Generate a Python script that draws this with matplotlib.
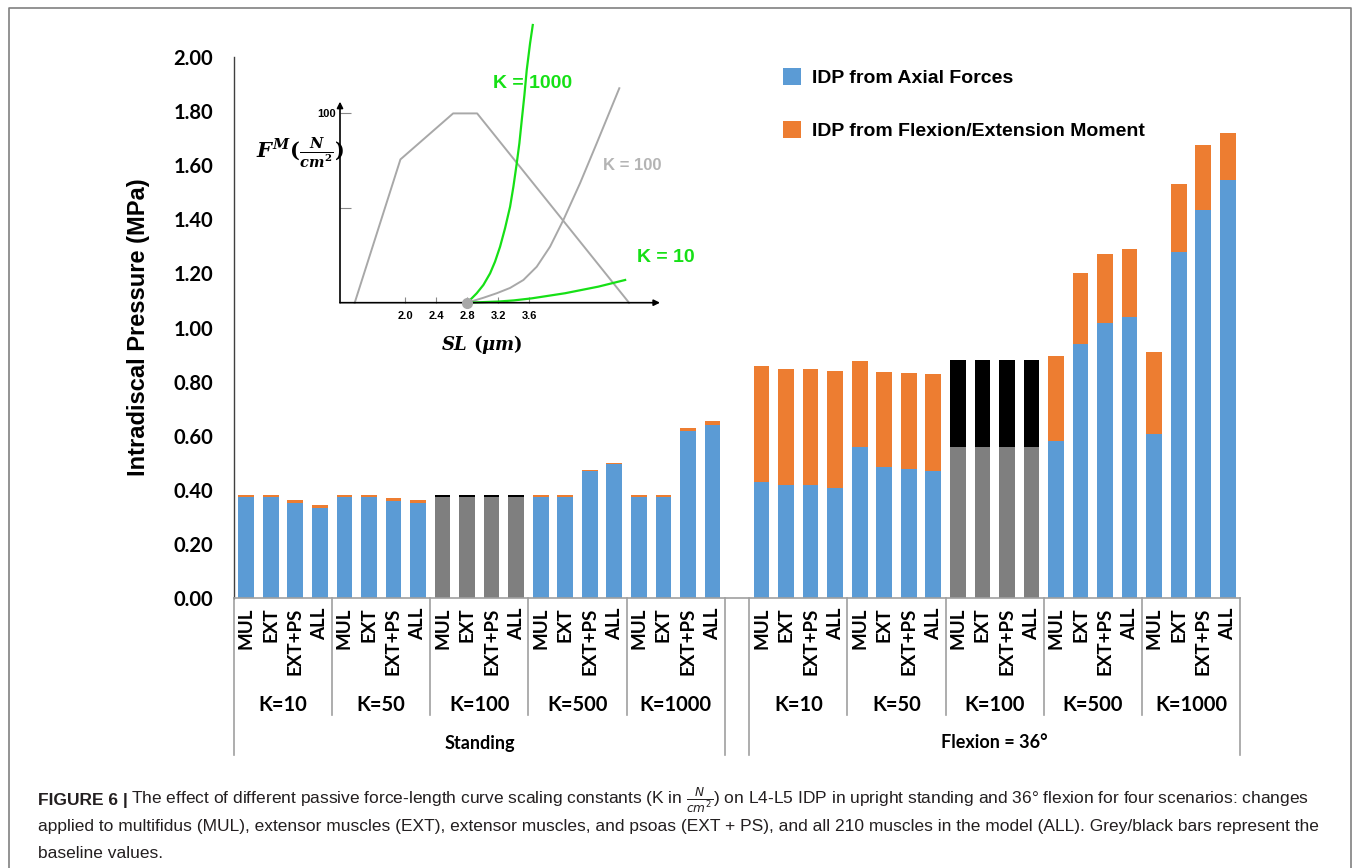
import matplotlib
matplotlib.use("Agg")
import matplotlib.pyplot as plt
from matplotlib.lines import Line2D
import numpy as np

# ---------------- data ----------------
scenarios = ["MUL", "EXT", "EXT+PS", "ALL"]
k_labels = ["K=10", "K=50", "K=100", "K=500", "K=1000"]
postures = ["Standing", "Flexion = 36°"]
baseline_k = "K=100"

standing_axial = [0.372, 0.372, 0.350, 0.334,
                  0.372, 0.372, 0.359, 0.350,
                  0.372, 0.372, 0.372, 0.372,
                  0.372, 0.372, 0.471, 0.497,
                  0.372, 0.372, 0.616, 0.641]
standing_moment = [0.009, 0.009, 0.011, 0.011,
                   0.009, 0.009, 0.012, 0.011,
                   0.009, 0.009, 0.009, 0.009,
                   0.009, 0.009, 0.003, 0.002,
                   0.009, 0.009, 0.014, 0.012]
flexion_axial = [0.430, 0.417, 0.417, 0.408,
                 0.557, 0.484, 0.476, 0.470,
                 0.559, 0.559, 0.559, 0.559,
                 0.580, 0.939, 1.017, 1.038,
                 0.605, 1.280, 1.434, 1.544]
flexion_moment = [0.429, 0.428, 0.428, 0.431,
                  0.319, 0.353, 0.355, 0.358,
                  0.321, 0.321, 0.321, 0.321,
                  0.313, 0.261, 0.254, 0.253,
                  0.306, 0.249, 0.239, 0.174]

legend_labels = ["IDP from Axial Forces", "IDP from Flexion/Extension Moment"]
y_ticks = [0.0, 0.2, 0.4, 0.6, 0.8, 1.0, 1.2, 1.4, 1.6, 1.8, 2.0]

# inset (passive / active force-length schematic)
active_sl = [1.35, 1.94, 2.62, 2.93, 4.89]
active_f = [0, 75.7, 100, 100, 0]
k1000_sl = [2.8, 2.860, 2.925, 3.011, 3.097, 3.161, 3.226, 3.290, 3.355, 3.398,
            3.441, 3.475, 3.506, 3.540, 3.570, 3.613, 3.648]
k1000_f = [0, 2.3, 5.0, 9.4, 15.5, 21.7, 29.6, 39.3, 50.7, 61.3,
           73.6, 84.2, 96.5, 109.7, 122.9, 137.0, 146.7]
k100_sl = [2.8, 3.011, 3.183, 3.355, 3.527, 3.699, 3.871, 4.043, 4.258, 4.473, 4.765]
k100_f = [0, 2.6, 5.0, 7.8, 12.0, 19.0, 29.6, 43.7, 63.1, 84.2, 113.3]
k10_sl = [2.8, 3.2, 3.4, 3.635, 4.065, 4.496, 4.84]
k10_f = [0, 0.6, 1.2, 2.3, 5.0, 8.5, 12.0]
inset_xticks = [2.0, 2.4, 2.8, 3.2, 3.6]

# ---------------- style ----------------
BLUE = "#5B9BD5"
ORANGE = "#ED7D31"
GREY = "#7F7F7F"
BLACK = "#000000"
GREEN = "#16E016"
LGREY = "#A8A8A8"
LINE = "#A0A0A0"
CAT_FONT = "Lato"
ARIAL = "Liberation Sans"

plt.rcParams["mathtext.fontset"] = "custom"
plt.rcParams["mathtext.it"] = "DejaVu Serif:italic:bold"
plt.rcParams["mathtext.rm"] = "DejaVu Serif:bold"
plt.rcParams["mathtext.bf"] = "DejaVu Serif:bold"

W, H = 1357, 868
fig = plt.figure(figsize=(W / 100, H / 100), dpi=100)

def fx(px):
    return px / W

def fy(py):
    return 1 - py / H

ax_left, ax_right, ax_top, ax_bottom = 234, 1240, 57, 598
ax = fig.add_axes([fx(ax_left), fy(ax_bottom), fx(ax_right - ax_left), (ax_bottom - ax_top) / H])

n_per = len(scenarios) * len(k_labels)
x_stand = np.arange(n_per)
x_flex = np.arange(n_per) + n_per + 1
x_all = np.concatenate([x_stand, x_flex])
axial = np.array(standing_axial + flexion_axial)
moment = np.array(standing_moment + flexion_moment)

groups = [k for _ in postures for k in k_labels for _ in scenarios]
is_base = np.array([g == baseline_k for g in groups])
c_axial = [GREY if b else BLUE for b in is_base]
c_moment = [BLACK if b else ORANGE for b in is_base]

bw = 0.64
b1 = ax.bar(x_all, axial, width=bw, color=c_axial, label=legend_labels[0], zorder=2)
b2 = ax.bar(x_all, moment, bottom=axial, width=bw, color=c_moment, label=legend_labels[1], zorder=2)

ax.set_xlim(-0.5, 2 * n_per + 0.5)
ax.set_ylim(0, 2.0)
ax.set_yticks(y_ticks)
ax.set_yticklabels([f"{v:.2f}" for v in y_ticks], fontfamily=CAT_FONT, fontweight="bold", fontsize=14.5)
ax.tick_params(axis="y", length=0, pad=15)
ax.set_xticks(x_all)
ax.set_xticklabels(scenarios * (2 * len(k_labels)), rotation=90, fontfamily=CAT_FONT,
                   fontweight="bold", fontsize=13.5)
ax.tick_params(axis="x", length=0, pad=7)
for s in ["top", "right"]:
    ax.spines[s].set_visible(False)
ax.spines["left"].set_color("#404040")
ax.spines["left"].set_linewidth(1.0)
ax.spines["bottom"].set_color(LINE)
ax.spines["bottom"].set_linewidth(1.2)
ax.set_ylabel("Intradiscal Pressure (MPa)", fontfamily=ARIAL, fontweight="bold", fontsize=17)
ax.yaxis.set_label_coords(-(234 - 150) / (ax_right - ax_left), 0.5)

# multi-level category lines
axh = ax_bottom - ax_top
short_y = -(715 - ax_bottom) / axh
long_y = -(755 - ax_bottom) / axh
trans = ax.get_xaxis_transform()
for p in range(2):
    start = -0.5 + p * (n_per + 1)
    for g in range(len(k_labels) + 1):
        xb = start + g * len(scenarios)
        yb = long_y if g in (0, len(k_labels)) else short_y
        ax.plot([xb, xb], [0, yb], color=LINE, lw=1.2, transform=trans, clip_on=False)
        if g < len(k_labels):
            ax.text(xb + len(scenarios) / 2, -(705 - ax_bottom) / axh, k_labels[g], transform=trans,
                    ha="center", va="center", fontfamily=CAT_FONT, fontweight="bold", fontsize=14.5)
    ax.text(start + n_per / 2, -(743 - ax_bottom) / axh, postures[p], transform=trans,
            ha="center", va="center", fontfamily=CAT_FONT, fontweight="bold", fontsize=13)

# legend
ax.legend(handles=[b1, b2], labels=legend_labels, loc="upper left",
          bbox_to_anchor=(fx(783), fy(68)), bbox_transform=fig.transFigure,
          frameon=False, prop=dict(family=ARIAL, weight="bold", size=14),
          handlelength=0.95, handleheight=0.95, handletextpad=0.55,
          labelspacing=1.75, borderpad=0, borderaxespad=0)

# ---------------- inset ----------------
in_l, in_r, in_b, in_t = 340, 660, 302.7, 25
axi = fig.add_axes([fx(in_l), fy(in_b), fx(in_r - in_l), (in_b - in_t) / H])
axi.patch.set_alpha(0)
axi.set_xlim(1.16, 5.29)
axi.set_ylim(0, 146.7)
for s in axi.spines.values():
    s.set_visible(False)
axi.plot(active_sl, active_f, color=LGREY, lw=1.4, clip_on=False)
axi.plot(k100_sl, k100_f, color=LGREY, lw=1.4, clip_on=False)
axi.plot(k1000_sl, k1000_f, color=GREEN, lw=1.6, clip_on=False)
axi.plot(k10_sl, k10_f, color=GREEN, lw=1.6, clip_on=False)
axi.annotate("", xy=(5.29, 0), xytext=(1.16, 0),
             arrowprops=dict(arrowstyle="-|>", color="black", lw=1.2, mutation_scale=9, shrinkA=0, shrinkB=0))
axi.annotate("", xy=(1.16, 106.2), xytext=(1.16, 0),
             arrowprops=dict(arrowstyle="-|>", color="black", lw=1.2, mutation_scale=9, shrinkA=0, shrinkB=0))
axi.plot([2.8], [0], "o", color=LGREY, ms=7, clip_on=False, zorder=5)
axi.set_xticks(inset_xticks)
axi.set_xticklabels([f"{v:.1f}" for v in inset_xticks], fontfamily=ARIAL, fontweight="bold", fontsize=8)
axi.tick_params(axis="x", direction="in", length=4, width=0.8, color="#888888", pad=6)
axi.set_yticks([50, 100])
axi.set_yticklabels(["", "100"], fontfamily=ARIAL, fontweight="bold", fontsize=8)
axi.tick_params(axis="y", direction="in", length=8, width=0.8, color="#888888", pad=3)

fig.text(fx(300), fy(153), r"$F^M(\frac{N}{cm^2})$", ha="center", va="center", fontsize=15)
fig.text(fx(482), fy(345), r"$SL\ (\mu m)$", ha="center", va="center", fontsize=13)
fig.text(fx(493), fy(83), "K = 1000", color=GREEN, ha="left", va="center", fontfamily=ARIAL,
         fontweight="bold", fontsize=14)
fig.text(fx(603), fy(165), "K = 100", color="#B4B4B4", ha="left", va="center", fontfamily=ARIAL,
         fontweight="bold", fontsize=12)
fig.text(fx(637), fy(258), "K = 10", color=GREEN, ha="left", va="center", fontfamily=ARIAL,
         fontweight="bold", fontsize=14)

# ---------------- frame and caption ----------------
fig.add_artist(Line2D([fx(9), fx(9), fx(1351), fx(1351)], [0, fy(8), fy(8), 0],
                      transform=fig.transFigure, color="#808080", lw=1.2))

CAP = "#231F20"
cap_size = 12.5
renderer = fig.canvas.get_renderer()
t0 = fig.text(fx(38), fy(800), "FIGURE 6 |", fontfamily=ARIAL, fontweight="bold", fontsize=cap_size,
              color=CAP, ha="left", va="center")
bb = t0.get_window_extent(renderer=renderer)
fig.text((bb.x1 + 3) / W, fy(800),
         r"The effect of different passive force-length curve scaling constants (K in $\frac{N}{cm^2}$) "
         "on L4-L5 IDP in upright standing and 36° flexion for four scenarios: changes",
         fontfamily=ARIAL, fontsize=cap_size, color=CAP, ha="left", va="center", math_fontfamily="dejavusans")
fig.text(fx(38), fy(827),
         "applied to multifidus (MUL), extensor muscles (EXT), extensor muscles, and psoas (EXT + PS), "
         "and all 210 muscles in the model (ALL). Grey/black bars represent the",
         fontfamily=ARIAL, fontsize=cap_size, color=CAP, ha="left", va="center")
fig.text(fx(38), fy(853), "baseline values.", fontfamily=ARIAL, fontsize=cap_size, color=CAP,
         ha="left", va="center")

fig.savefig("out.png", dpi=100)
